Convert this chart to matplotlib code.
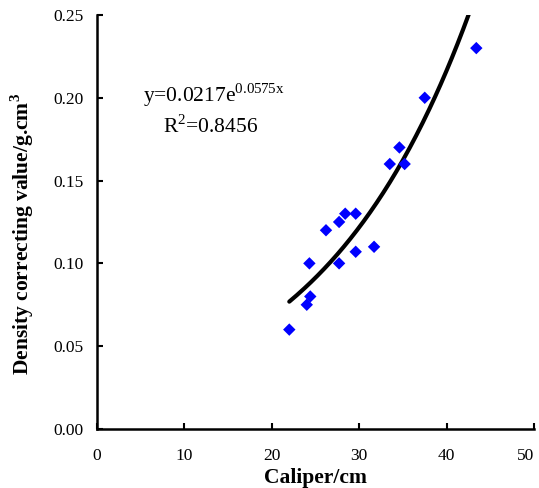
import numpy as np
import matplotlib
matplotlib.use("Agg")
import matplotlib.pyplot as plt

plt.rcParams['font.family'] = ['Liberation Serif', 'DejaVu Serif']
plt.rcParams['mathtext.fontset'] = 'custom'
plt.rcParams['mathtext.rm'] = 'Liberation Serif'
plt.rcParams['mathtext.bf'] = 'Liberation Serif:bold'

caliper = [22.0, 24.0, 24.4, 24.3, 26.2, 27.7, 28.4, 29.6, 27.7, 29.6, 31.7, 33.5, 35.2, 34.6, 37.5, 43.4]
density = [0.060, 0.075, 0.080, 0.100, 0.120, 0.125, 0.130, 0.130, 0.100, 0.107, 0.110, 0.160, 0.160, 0.170, 0.200, 0.230]

# exponential fit from the chart
a, b = 0.0217, 0.0575

fig = plt.figure(figsize=(5.39, 4.88), dpi=100)
ax = fig.add_axes([0.18, 0.121, 0.8107, 0.8483])

xs = np.linspace(min(caliper), max(caliper), 200)
ax.plot(xs, a * np.exp(b * xs), color='black', lw=3, solid_capstyle='round', zorder=2)
ax.scatter(caliper, density, marker='D', s=40, color='blue', edgecolors='none', zorder=3)

ax.set_xlim(0, 50)
ax.set_ylim(0, 0.25)
ax.set_xticks([0, 10, 20, 30, 40, 50])
ax.set_yticks([0, 0.05, 0.10, 0.15, 0.20, 0.25])
ax.set_yticklabels(['0.00', '0.05', '0.10', '0.15', '0.20', '0.25'])
ax.tick_params(direction='in', length=4, width=1.5, labelsize=12.5)
ax.tick_params(axis='y', pad=10)
ax.tick_params(axis='x', pad=14)
ax.get_xticklabels()[-1].set_horizontalalignment('right')
for s in ['top', 'right']:
    ax.spines[s].set_visible(False)
for s in ['left', 'bottom']:
    ax.spines[s].set_linewidth(1.8)

ax.set_xlabel('Caliper/cm', fontsize=15.5, fontweight='bold')
ax.set_ylabel('Density correcting value/g.cm$^\\mathbf{3}$', fontsize=15.5, fontweight='bold')
ax.xaxis.set_label_coords(0.5, -0.094)
ax.yaxis.set_label_coords(-0.14, 0.47)

ax.text(5.3, 0.1975, 'y=0.0217e$^{0.0575\\mathrm{x}}$', fontsize=15.5)
ax.text(7.6, 0.1787, 'R$^2$=0.8456', fontsize=15.5)

fig.savefig('out.png', dpi=100)
